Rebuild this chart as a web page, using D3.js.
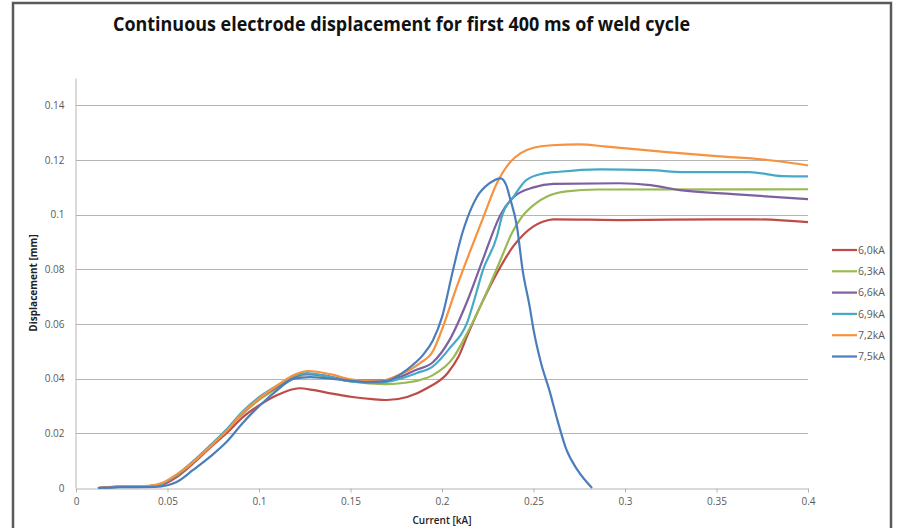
<!DOCTYPE html>
<html>
<head>
<meta charset="utf-8">
<script src="https://cdn.jsdelivr.net/npm/d3@7"></script>
<style>
  body { margin: 0; background: #fff; }
  svg { display: block; font-family: "Open Sans", "Liberation Sans", sans-serif; }
</style>
</head>
<body>
<svg id="chart" width="897" height="528"></svg>
<script>

// series labels + colours (Excel 2010 palette)
var seriesNames = ['6,0kA', '6,3kA', '6,6kA', '6,9kA', '7,2kA', '7,5kA'];
var seriesColors = ['#be4b48', '#98b954', '#7d60a0', '#46aac5', '#f69240', '#4a7ebb'];

// [current, displacement] pairs
var s60 = [[0.012,0],[0.025,0.0005],[0.04,0.0006],[0.047,0.0012],[0.055,0.004],[0.064,0.009],[0.073,0.0146],
  [0.0825,0.0202],[0.091,0.0258],[0.1,0.0302],[0.11,0.034],[0.122,0.0365],[0.13,0.0358],[0.14,0.0345],[0.151,0.0333],
  [0.162,0.0325],[0.17,0.0322],[0.181,0.0333],[0.192,0.0366],[0.203,0.042],[0.209,0.048],[0.214,0.056],[0.222,0.068],
  [0.232,0.081],[0.239,0.0885],[0.245,0.093],[0.25,0.0957],[0.255,0.0974],[0.261,0.0983],[0.3,0.098],[0.35,0.0983],
  [0.37,0.0983],[0.4,0.0973]];
var s63 = [[0.012,0],[0.025,0.0005],[0.04,0.0007],[0.047,0.0015],[0.055,0.0045],[0.064,0.0095],[0.073,0.015],
  [0.0825,0.0212],[0.091,0.027],[0.1006,0.0325],[0.11,0.0365],[0.119,0.040],[0.126,0.0415],[0.135,0.041],[0.15,0.039],
  [0.16,0.0383],[0.17,0.038],[0.18,0.0385],[0.188,0.0395],[0.195,0.0413],[0.206,0.0475],[0.214,0.057],[0.222,0.068],
  [0.232,0.0835],[0.238,0.093],[0.244,0.0995],[0.25,0.1035],[0.258,0.1068],[0.268,0.1085],[0.285,0.1092],[0.4,0.1093]];
var s66 = [[0.012,0],[0.025,0.0005],[0.04,0.0007],[0.047,0.0015],[0.055,0.0047],[0.064,0.0097],[0.073,0.0152],
  [0.0825,0.0214],[0.091,0.0275],[0.1006,0.033],[0.11,0.037],[0.119,0.0405],[0.126,0.0418],[0.135,0.0412],[0.15,0.0395],
  [0.165,0.0393],[0.177,0.0406],[0.185,0.043],[0.195,0.046],[0.204,0.054],[0.214,0.0687],[0.222,0.083],[0.232,0.1],
  [0.239,0.1064],[0.25,0.110],[0.261,0.1113],[0.297,0.1115],[0.314,0.1108],[0.33,0.109],[0.359,0.1075],[0.4,0.1057]];
var s69 = [[0.012,0],[0.025,0.0005],[0.04,0.0007],[0.047,0.0016],[0.055,0.0048],[0.064,0.0098],[0.073,0.0154],
  [0.0825,0.0216],[0.091,0.028],[0.1006,0.0335],[0.11,0.0375],[0.119,0.041],[0.126,0.042],[0.135,0.0412],[0.15,0.039],
  [0.165,0.0385],[0.177,0.040],[0.186,0.042],[0.195,0.0445],[0.204,0.051],[0.214,0.061],[0.219,0.072],[0.222,0.079],
  [0.23,0.092],[0.233,0.1],[0.239,0.1064],[0.246,0.1126],[0.255,0.115],[0.264,0.1157],[0.286,0.1166],[0.314,0.1163],
  [0.332,0.1156],[0.368,0.1156],[0.386,0.1141],[0.4,0.114]];
var s72 = [[0.012,0],[0.025,0.0006],[0.04,0.0008],[0.047,0.0018],[0.055,0.005],[0.064,0.0095],[0.073,0.015],
  [0.0825,0.021],[0.091,0.0275],[0.1006,0.033],[0.11,0.0375],[0.119,0.0413],[0.127,0.0428],[0.14,0.0415],[0.15,0.0398],
  [0.165,0.039],[0.177,0.0415],[0.188,0.0457],[0.195,0.05],[0.2,0.058],[0.208,0.0735],[0.215,0.086],[0.222,0.098],
  [0.23,0.1115],[0.237,0.119],[0.243,0.1225],[0.25,0.1245],[0.26,0.1254],[0.275,0.1257],[0.29,0.1249],[0.323,0.1229],
  [0.35,0.1214],[0.378,0.12],[0.39,0.119],[0.4,0.118]];
var s75 = [[0.012,0],[0.025,0.0003],[0.043,0.0004],[0.05,0.001],[0.055,0.0022],[0.064,0.0066],[0.073,0.0113],
  [0.0825,0.017],[0.091,0.0237],[0.1006,0.0303],[0.11,0.0358],[0.119,0.040],[0.128,0.0406],[0.146,0.0395],[0.16,0.0387],
  [0.17,0.0392],[0.177,0.0415],[0.184,0.045],[0.19,0.049],[0.195,0.054],[0.2,0.0625],[0.206,0.0797],[0.211,0.093],
  [0.214,0.099],[0.219,0.1064],[0.226,0.1115],[0.232,0.1133],[0.235,0.111],[0.237,0.1064],[0.241,0.0955],[0.244,0.08],
  [0.248,0.066],[0.25,0.058],[0.254,0.046],[0.259,0.035],[0.263,0.025],[0.268,0.014],[0.274,0.0066],[0.282,0]];

var seriesData = [s60, s63, s66, s69, s72, s75];

var xTicks = [0, 0.05, 0.1, 0.15, 0.2, 0.25, 0.3, 0.35, 0.4];
var xTickLabels = ['0', '0.05', '0.1', '0.15', '0.2', '0.25', '0.3', '0.35', '0.4'];
var yTicks = [0, 0.02, 0.04, 0.06, 0.08, 0.1, 0.12, 0.14];
var yTickLabels = ['0', '0.02', '0.04', '0.06', '0.08', '0.1', '0.12', '0.14'];

var svg = d3.select('#chart');

// outer frame of the pasted chart
svg.append('rect')
  .attr('x', 13).attr('y', 3)
  .attr('width', 878).attr('height', 540)
  .attr('fill', 'none')
  .attr('stroke', '#5a5a5a')
  .attr('stroke-width', 2.5);

svg.append('text')
  .attr('x', 113).attr('y', 31)
  .attr('textLength', 577)
  .attr('lengthAdjust', 'spacingAndGlyphs')
  .style('font-size', '19px')
  .style('font-weight', 'bold')
  .attr('fill', '#111')
  .text('Continuous electrode displacement for first 400 ms of weld cycle');

var margin = { left: 76, top: 78, right: 808, bottom: 488 };

var x = d3.scaleLinear().domain([0, 0.4]).range([margin.left, margin.right]);
var y = d3.scaleLinear().domain([0, 0.15]).range([margin.bottom, margin.top]);

// gridlines
svg.append('g').selectAll('line')
  .data(yTicks.slice(1))
  .join('line')
  .attr('x1', x(0)).attr('x2', x(0.4))
  .attr('y1', function(d) { return Math.round(y(d)) + 0.5; })
  .attr('y2', function(d) { return Math.round(y(d)) + 0.5; })
  .attr('stroke', '#b4b4b4')
  .attr('stroke-width', 1);

// x axis
var xAxis = d3.axisBottom(x)
  .tickValues(xTicks)
  .tickFormat(function(d, i) { return xTickLabels[i]; })
  .tickSize(4)
  .tickSizeOuter(0);

var gx = svg.append('g')
  .attr('transform', 'translate(0,' + (margin.bottom + 0.5) + ')')
  .call(xAxis);
gx.select('.domain').attr('stroke', '#b4b4b4');
gx.selectAll('.tick line').attr('stroke', '#b4b4b4');
gx.selectAll('.tick text')
  .attr('fill', '#595959')
  .attr('dy', '0.9em')
  .style('font-size', '10px')
  .style('font-family', '"Open Sans", sans-serif');

// y axis
var yAxis = d3.axisLeft(y)
  .tickValues(yTicks)
  .tickFormat(function(d, i) { return yTickLabels[i]; })
  .tickSize(0)
  .tickPadding(11)
  .tickSizeOuter(0);

var gy = svg.append('g')
  .attr('transform', 'translate(' + (margin.left - 0.5) + ',0)')
  .call(yAxis);
gy.select('.domain').attr('stroke', '#b4b4b4');
gy.selectAll('.tick text')
  .attr('fill', '#595959')
  .style('font-size', '10px')
  .style('font-family', '"Open Sans", sans-serif');

// axis titles
svg.append('text')
  .attr('transform', 'translate(37,' + ((margin.top + margin.bottom) / 2) + ') rotate(-90)')
  .attr('text-anchor', 'middle')
  .style('font-size', '10px')
  .style('font-weight', 'bold')
  .attr('fill', '#222')
  .text('Displacement [mm]');

svg.append('text')
  .attr('x', (margin.left + margin.right) / 2)
  .attr('y', 524)
  .attr('text-anchor', 'middle')
  .style('font-size', '10px')
  .style('font-weight', '600')
  .attr('fill', '#222')
  .text('Current [kA]');

// series lines
var line = d3.line()
  .x(function(d) { return x(d[0]); })
  .y(function(d) { return y(d[1]); })
  .curve(d3.curveMonotoneX);

svg.append('g').selectAll('path')
  .data(seriesData)
  .join('path')
  .attr('d', line)
  .attr('fill', 'none')
  .attr('stroke', function(d, i) { return seriesColors[i]; })
  .attr('stroke-width', 2.2)
  .attr('stroke-linejoin', 'round');

// legend
var legend = svg.append('g')
  .selectAll('g')
  .data(seriesNames)
  .join('g')
  .attr('transform', function(d, i) { return 'translate(832,' + (250 + i * 21.3) + ')'; });

legend.append('line')
  .attr('x1', 0).attr('x2', 25)
  .attr('stroke', function(d, i) { return seriesColors[i]; })
  .attr('stroke-width', 2.2);

legend.append('text')
  .attr('x', 26).attr('dy', '0.35em')
  .style('font-size', '10.5px')
  .attr('fill', '#595959')
  .text(function(d) { return d; });

</script>
</body>
</html>
